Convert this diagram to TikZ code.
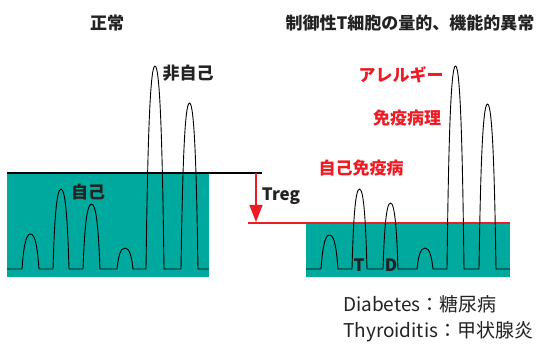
\documentclass[tikz,border=0pt]{standalone}
\usepackage{fontspec}
\setmainfont{Noto Sans CJK JP}
\newfontfamily\jp{Noto Sans CJK JP}
\usetikzlibrary{arrows.meta}
\definecolor{tealfill}{HTML}{00A99D}
\definecolor{redline}{HTML}{ED1C24}
\definecolor{darktext}{HTML}{222222}
\newcommand\by{269}
\newcommand\pk[3]{-- (#1,\by) .. controls ({#1+0.08*(#2-#1)},{\by+0.55*(#3-\by)}) and ({#1+0.2*(#2-#1)},#3) .. ({(#1+#2)/2},#3) .. controls ({#2-0.2*(#2-#1)},#3) and ({#2-0.08*(#2-#1)},{\by+0.55*(#3-\by)}) .. (#2,\by)}
\tikzset{
  lbl/.style={font=\jp\bfseries\fontsize{17}{20}\selectfont, inner sep=0pt, text=darktext},
  redlbl/.style={lbl, text=redline},
  note/.style={font=\jp\fontsize{19}{23}\selectfont, inner sep=0pt, text=darktext, anchor=base west},
  curve/.style={draw=black, line width=0.9pt, line join=round},
}
\begin{document}
\begin{tikzpicture}[x=1pt,y=-1pt]
\useasboundingbox (0,0) rectangle (539,344);
% teal blocks
\fill[tealfill] (7,173) rectangle (209,277);
\fill[tealfill] (306,223) rectangle (510,277);
% threshold lines
\coordinate (bl) at (7,173);
\coordinate (br) at (262,173);
\coordinate (rl) at (248,223);
\coordinate (rr) at (510,223);
\draw[black, line width=2pt] (bl) -- (br);
\draw[redline, line width=2pt] (rl) -- (rr);
% arrow
\coordinate (ts) at (256,173);
\coordinate (te) at (256,222);
\draw[redline, line width=1.6pt, -{Triangle[length=17pt,width=13pt]}] (ts) -- (te);
% left peaks
\draw[curve] (7,269) \pk{22}{39}{234} \pk{53}{69}{189} \pk{83}{100}{204} \pk{117}{133}{248} \pk{146}{164}{66} \pk{181}{198}{103} -- (209,269);
% right peaks
\draw[curve] (306,269) \pk{321}{338}{235} \pk{352}{367}{189} \pk{383}{398}{203} \pk{417}{433}{248} \pk{447}{464}{66} \pk{479}{496}{104} -- (510,269);
% labels
\node[lbl] (t1) at (107,23) {正常};
\node[lbl] (t2) at (410,23) {制御性T細胞の量的、機能的異常};
\node[lbl] (ns) at (188,73) {非自己};
\node[lbl] (self) at (88,192) {自己};
\node[lbl] (treg) at (281,196) {Treg};
\node[redlbl] (al) at (401,75) {アレルギー};
\node[redlbl] (ip) at (407,118) {免疫病理};
\node[redlbl] (ai) at (361,168) {自己免疫病};
\node[lbl] (tt) at (359,265) {T};
\node[lbl] (dd) at (391,265) {D};
\node[note] (n1) at (343,312) {Diabetes：糖尿病};
\node[note] (n2) at (343,338) {Thyroiditis：甲状腺炎};
\end{tikzpicture}
\end{document}
